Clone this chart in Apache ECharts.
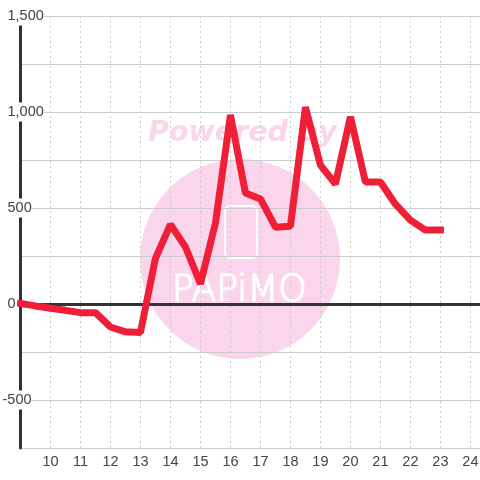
<!DOCTYPE html>
<html>
<head>
<meta charset="utf-8">
<style>
html, body { margin: 0; padding: 0; background: #fff; }
#main { width: 480px; height: 480px; }
</style>
<script src="https://cdn.jsdelivr.net/npm/echarts@6/dist/echarts.min.js"></script>
</head>
<body>
<div id="main"></div>
<script>
const hours = [9, 9.5, 10, 10.5, 11, 11.5, 12, 12.5, 13, 13.5, 14, 14.5, 15, 15.5, 16, 16.5, 17, 17.5, 18, 18.5, 19, 19.5, 20, 20.5, 21, 21.5, 22, 22.5, 23]
const values = [3, -10, -22, -33, -45, -45, -120, -145, -148, 238, 415, 297, 105, 422, 985, 578, 547, 400, 405, 1025, 723, 625, 975, 635, 635, 520, 437, 385, 385]
const negativeTicks = [-500]

const myChart = echarts.init(document.getElementById('main'))

const labelStyle = {
  inside: true,
  color: '#444',
  fontSize: 14.5,
  align: 'left',
  backgroundColor: '#fff',
  padding: [4, 0, 0, 0]
}

const option = {
  animation: false,
  textStyle: { fontFamily: 'Liberation Sans' },
  graphic: {
    z: -1,
    elements: [
      { type: 'circle', shape: { cx: 240, cy: 259, r: 100 }, style: { fill: '#fbd5ec' } },
      { type: 'text', x: 148, y: 119, style: { text: 'Powered by', fill: '#fbd5ec', font: 'italic bold 28.5px "DejaVu Sans"' } },
      { type: 'rect', shape: { x: 225, y: 206, width: 32, height: 52, r: 5 }, style: { fill: 'none', stroke: '#fff', lineWidth: 2 } },
      { type: 'text', x: 172, y: 272, scaleX: 0.95, style: { text: 'PAPiMO', fill: '#fff', stroke: '#fff', lineWidth: 1.5, font: '200 38px "DejaVu Sans"' } }
    ]
  },
  grid: { left: 20.5, right: 0, top: 16, bottom: 32, containLabel: false, outerBoundsMode: 'none' },
  xAxis: [
    {
      type: 'value',
      min: 9,
      max: 24.32,
      interval: 1,
      axisLine: { onZero: false, show: false },
      axisTick: { show: false },
      axisLabel: {
        color: '#444',
        fontSize: 14.5,
        margin: 6,
        showMinLabel: false,
        hideOverlap: false,
        formatter: (v) => Number.isInteger(v) ? String(v) : ''
      },
      splitLine: { show: true, lineStyle: { color: '#ccc', type: [2, 3], width: 1 } }
    },
    {
      type: 'value',
      min: 9,
      max: 24.32,
      interval: 1,
      position: 'top',
      axisLine: { show: true, onZero: true, lineStyle: { color: '#333', width: 3 } },
      axisTick: { show: false },
      axisLabel: { show: false },
      splitLine: { show: false }
    }
  ],
  yAxis: [
    {
      type: 'value',
      min: -750,
      max: 1500,
      interval: 250,
      axisLine: { show: true, onZero: false, lineStyle: { color: '#333', width: 3 } },
      axisTick: { show: false },
      axisLabel: {
        ...labelStyle,
        margin: -13,
        formatter: (v) => v % 500 === 0 && v >= 0 ? echarts.format.addCommas(v) : ''
      },
      splitLine: { show: true, lineStyle: { color: '#ccc', width: 1 } }
    },
    {
      type: 'value',
      position: 'left',
      min: -750,
      max: 1500,
      interval: 250,
      axisLine: { show: false, onZero: false },
      axisTick: { show: false },
      axisLabel: {
        ...labelStyle,
        margin: -18,
        customValues: negativeTicks
      },
      splitLine: { show: false }
    }
  ],
  series: [
    {
      type: 'line',
      data: hours.map((h, i) => [h, values[i]]),
      showSymbol: false,
      lineStyle: { color: '#ef1f38', width: 7, cap: 'square', join: 'bevel' }
    }
  ]
}

option && myChart.setOption(option)

window.addEventListener('resize', function () {
  myChart.resize()
})
</script>
</body>
</html>
